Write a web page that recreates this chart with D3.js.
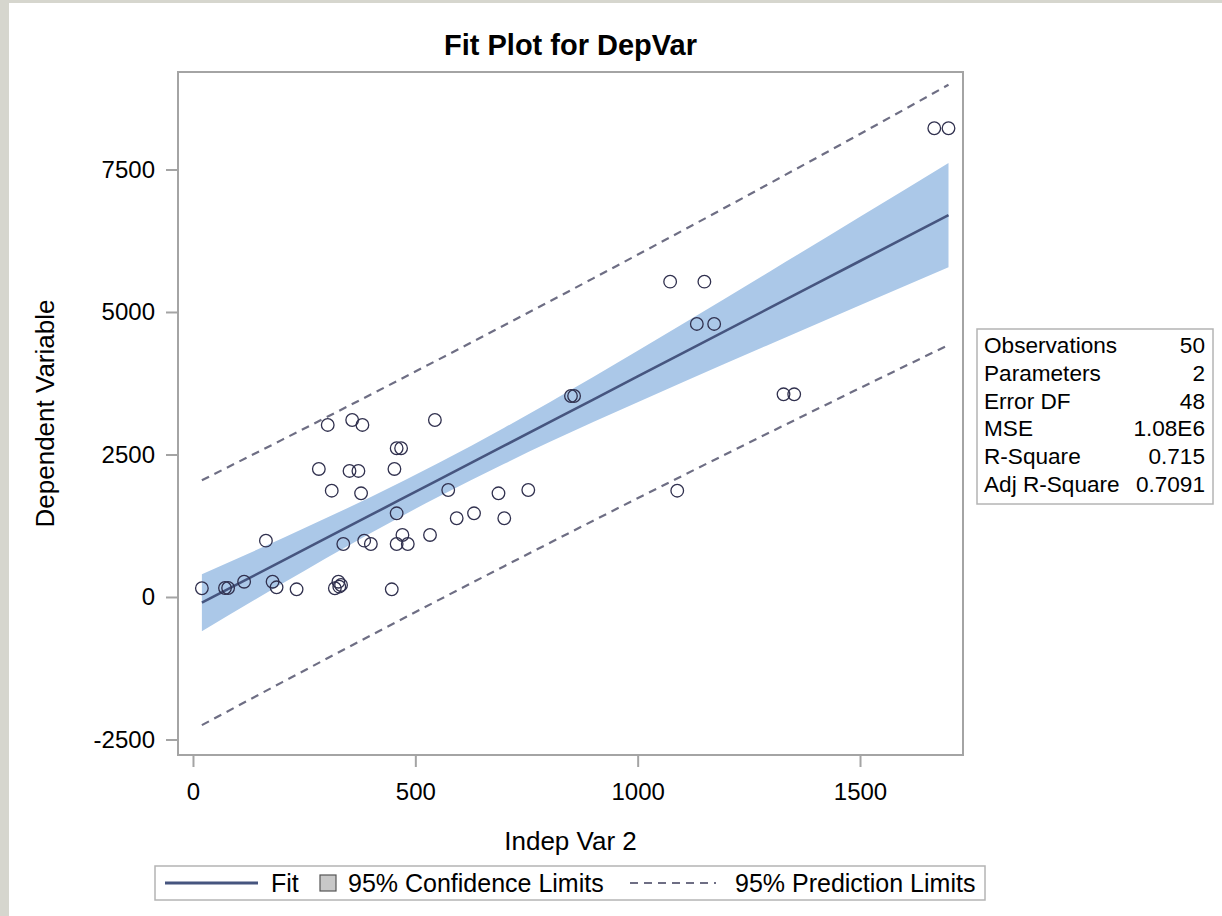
<!DOCTYPE html>
<html>
<head>
<meta charset="utf-8">
<script src="https://cdn.jsdelivr.net/npm/d3@7"></script>
<style>
  html, body { margin: 0; padding: 0; background: #d6d6ce; }
  svg { display: block; }
  text { font-family: "Liberation Sans", Arial, sans-serif; fill: #000; }
</style>
</head>
<body>
<svg id="chart" width="1222" height="916"></svg>
<script>
// ---- data ----
const obsX = [303, 358, 381, 544, 458, 468, 283, 352, 372, 453,
              312, 378, 574, 458, 593, 632, 164, 338, 385, 400,
              471, 458, 483, 533, 20, 72, 79, 115, 179, 188,
              233, 327, 329, 319, 333, 447, 687, 700, 754, 1089,
              1073, 1150, 1133, 1172, 1328, 1352, 1667, 1699, 850, 857];
const obsY = [3018, 3105, 3018, 3105, 2609, 2609, 2246, 2211, 2211, 2246,
              1865, 1819, 1877, 1468, 1381, 1468, 988, 930, 988, 930,
              1088, 930, 930, 1088, 153, 158, 158, 268, 268, 170,
              135, 268, 181, 153, 210, 135, 1819, 1381, 1877, 1865,
              5532, 5532, 4790, 4790, 3556, 3556, 8223, 8223, 3526, 3526];

const gridX   = [20, 200, 400, 552, 700, 900, 1100, 1300, 1500, 1699];
const fitY    = [-100, 629, 1439, 2055, 2654, 3464, 4274, 5084, 5894, 6700];
const clLower = [-600, 231, 1122, 1760, 2338, 3068, 3764, 4444, 5117, 5785];
const clUpper = [400, 1027, 1756, 2350, 2970, 3860, 4784, 5724, 6671, 7615];
const plLower = [-2248, -1498, -674, -55, 541, 1338, 2124, 2899, 3665, 4421];
const plUpper = [2048, 2756, 3552, 4165, 4767, 5590, 6424, 7269, 8123, 8985];

const xTicks = [0, 500, 1000, 1500];
const yTicks = [-2500, 0, 2500, 5000, 7500];

const statLabels = ["Observations", "Parameters", "Error DF", "MSE", "R-Square", "Adj R-Square"];
const statValues = ["50", "2", "48", "1.08E6", "0.715", "0.7091"];

const legendLabels = ["Fit", "95% Confidence Limits", "95% Prediction Limits"];
const titleText = "Fit Plot for DepVar";
const xLabel = "Indep Var 2";
const yLabel = "Dependent Variable";

// ---- layout ----
const svg = d3.select("#chart");
const frame = {left: 178, right: 963, top: 72, bottom: 755};
const xDomain = [-33.7, 1731.6];
const yDomain = [-2772, 9210];

const x = d3.scaleLinear().domain(xDomain).range([frame.left, frame.right]);
const y = d3.scaleLinear().domain(yDomain).range([frame.bottom, frame.top]);

// white page area
svg.append("rect").attr("x", 9).attr("y", 3).attr("width", 1222 - 9).attr("height", 916 - 3)
  .attr("fill", "#ffffff");

// title
svg.append("text").attr("x", (frame.left + frame.right) / 2).attr("y", 55)
  .attr("text-anchor", "middle").attr("font-size", 29).attr("font-weight", "bold")
  .text(titleText);

// plot background
svg.append("rect").attr("x", frame.left).attr("y", frame.top)
  .attr("width", frame.right - frame.left).attr("height", frame.bottom - frame.top)
  .attr("fill", "#ffffff");

const plot = svg.append("g");
const rows = gridX.map((gx, i) => ({x: gx, fit: fitY[i], cl: clLower[i], cu: clUpper[i], pl: plLower[i], pu: plUpper[i]}));

// confidence band
plot.append("path").datum(rows)
  .attr("d", d3.area().x(d => x(d.x)).y0(d => y(d.cl)).y1(d => y(d.cu)).curve(d3.curveMonotoneX))
  .attr("fill", "#abc8e8").attr("stroke", "none");

// prediction limits
["pl", "pu"].forEach(k => {
  plot.append("path").datum(rows)
    .attr("d", d3.line().x(d => x(d.x)).y(d => y(d[k])).curve(d3.curveMonotoneX))
    .attr("fill", "none").attr("stroke", "#6e6e84").attr("stroke-width", 2.2)
    .attr("stroke-dasharray", "8,6");
});

// fit line
plot.append("path").datum(rows)
  .attr("d", d3.line().x(d => x(d.x)).y(d => y(d.fit)).curve(d3.curveMonotoneX))
  .attr("fill", "none").attr("stroke", "#46557f").attr("stroke-width", 2.6);

// observations
plot.selectAll("circle.obs").data(obsX.map((v, i) => [v, obsY[i]])).enter()
  .append("circle").attr("class", "obs")
  .attr("cx", d => x(d[0])).attr("cy", d => y(d[1])).attr("r", 6.3)
  .attr("fill", "none").attr("stroke", "#30304e").attr("stroke-width", 1.3);

// frame
svg.append("rect").attr("x", frame.left).attr("y", frame.top)
  .attr("width", frame.right - frame.left).attr("height", frame.bottom - frame.top)
  .attr("fill", "none").attr("stroke", "#a4a4a4").attr("stroke-width", 2);

// axes
const axisColor = "#a4a4a4";
const fmt = d => String(d);
const xAxis = svg.append("g").attr("transform", `translate(0,${frame.bottom})`)
  .call(d3.axisBottom(x).tickValues(xTicks).tickSize(12).tickPadding(16).tickFormat(fmt));
const yAxis = svg.append("g").attr("transform", `translate(${frame.left},0)`)
  .call(d3.axisLeft(y).tickValues(yTicks).tickSize(12).tickPadding(11).tickFormat(fmt));
[xAxis, yAxis].forEach(a => {
  a.select(".domain").remove();
  a.selectAll(".tick line").attr("stroke", axisColor).attr("stroke-width", 2);
  a.selectAll(".tick text").attr("font-size", 24).attr("font-family", "Liberation Sans, Arial, sans-serif").attr("fill", "#000");
});

// axis labels
svg.append("text").attr("x", (frame.left + frame.right) / 2).attr("y", 850)
  .attr("text-anchor", "middle").attr("font-size", 26).text(xLabel);
svg.append("text").attr("transform", `translate(54,${(frame.top + frame.bottom) / 2}) rotate(-90)`)
  .attr("text-anchor", "middle").attr("font-size", 26).text(yLabel);

// stats inset
const inset = {x: 977, y: 329, w: 236, h: 175};
svg.append("rect").attr("x", inset.x).attr("y", inset.y).attr("width", inset.w).attr("height", inset.h)
  .attr("fill", "#ffffff").attr("stroke", "#b4b4b4").attr("stroke-width", 1.5);
statLabels.forEach((lab, i) => {
  const by = 353 + i * 27.8;
  svg.append("text").attr("x", 984).attr("y", by).attr("font-size", 22.6).text(lab);
  svg.append("text").attr("x", 1205).attr("y", by).attr("font-size", 22.6)
    .attr("text-anchor", "end").text(statValues[i]);
});

// legend
const lg = svg.append("g");
lg.append("rect").attr("x", 155).attr("y", 866).attr("width", 830).attr("height", 34)
  .attr("fill", "#ffffff").attr("stroke", "#b4b4b4").attr("stroke-width", 1.5);
const ly = 883;
lg.append("line").attr("x1", 165).attr("x2", 258).attr("y1", ly).attr("y2", ly)
  .attr("stroke", "#46557f").attr("stroke-width", 3);
lg.append("text").attr("x", 271).attr("y", ly + 9).attr("font-size", 25).text(legendLabels[0]);
lg.append("rect").attr("x", 320).attr("y", ly - 8).attr("width", 16).attr("height", 16)
  .attr("fill", "#c8c8c8").attr("stroke", "#555555").attr("stroke-width", 1.2);
lg.append("text").attr("x", 348).attr("y", ly + 9).attr("font-size", 25).text(legendLabels[1]);
lg.append("line").attr("x1", 630).attr("x2", 716).attr("y1", ly).attr("y2", ly)
  .attr("stroke", "#6e6e84").attr("stroke-width", 2).attr("stroke-dasharray", "8,6");
lg.append("text").attr("x", 735).attr("y", ly + 9).attr("font-size", 25).text(legendLabels[2]);
</script>
</body>
</html>
